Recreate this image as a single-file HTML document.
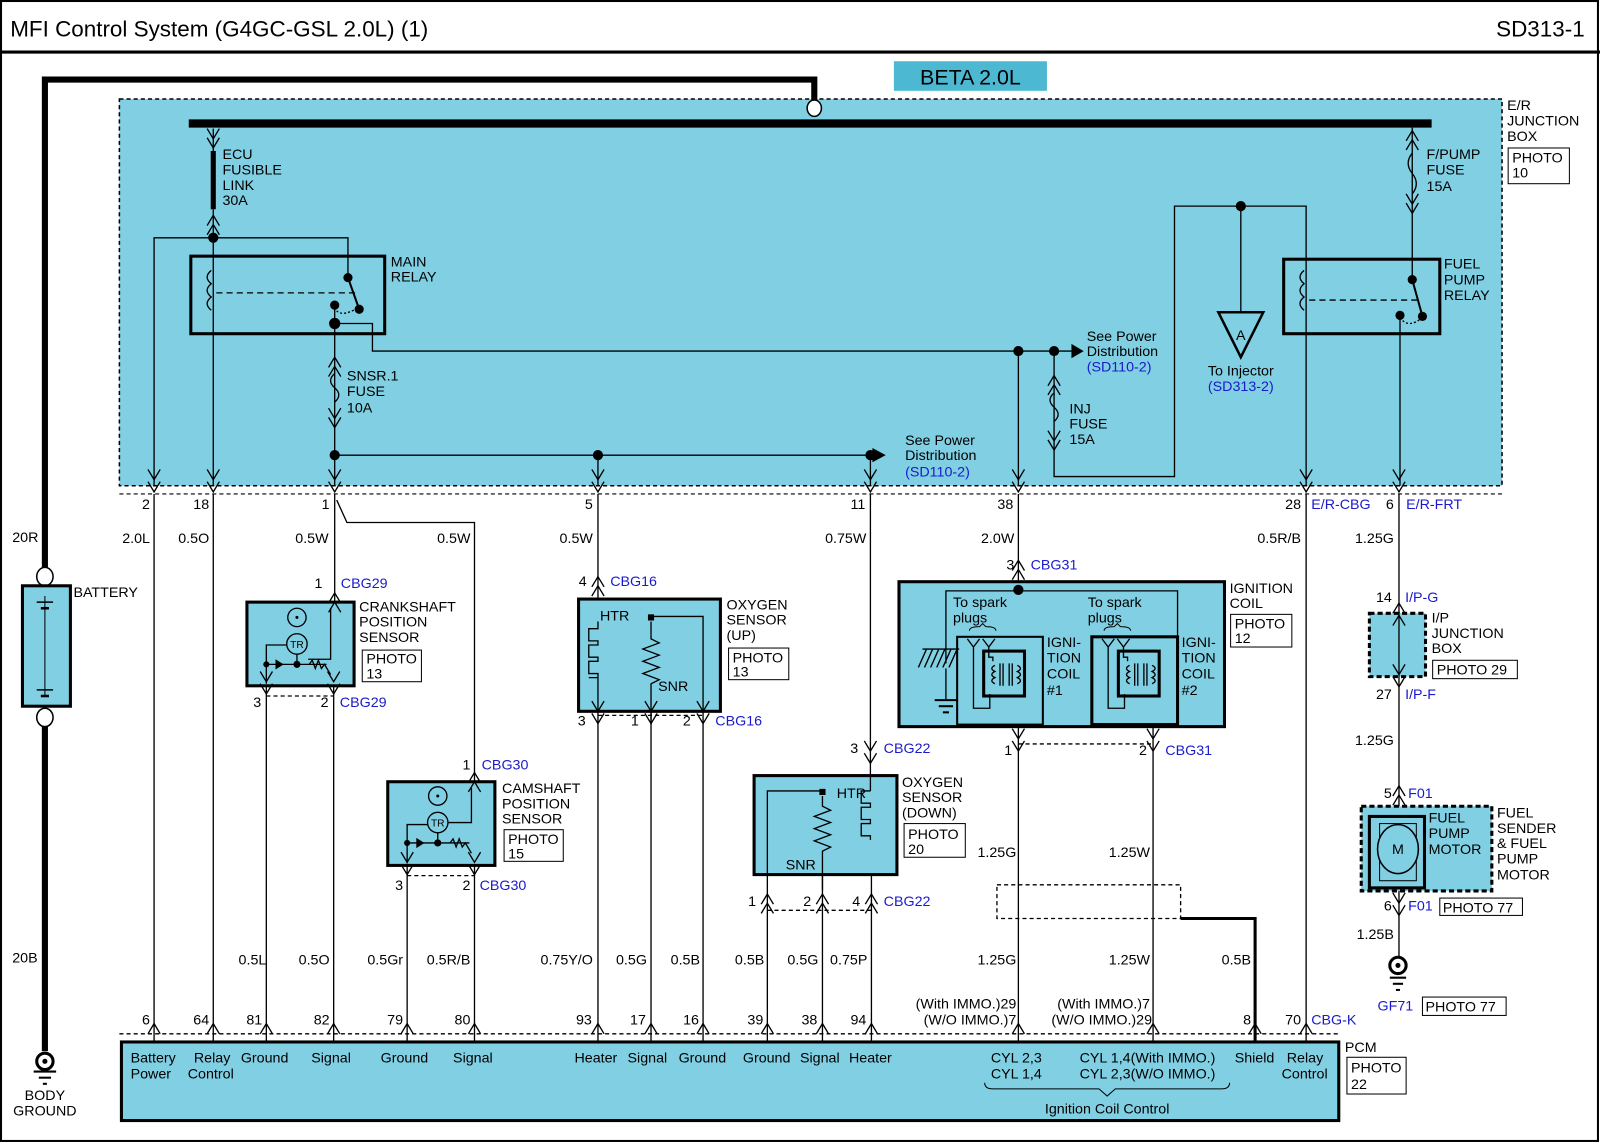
<!DOCTYPE html>
<html><head><meta charset="utf-8"><style>
html,body{margin:0;padding:0;background:#fff}
svg{display:block}
text{font-family:"Liberation Sans",Arial,sans-serif;font-size:14px;fill:#000}
.b{fill:#1a1acc}
.r{text-anchor:end}
.m{text-anchor:middle}
</style></head><body>
<svg width="1600" height="1143" viewBox="0 0 1568 1120" preserveAspectRatio="none" xmlns="http://www.w3.org/2000/svg">
<defs>
<path id="dn" d="M-6,-10 L0,0 L6,-10" fill="none" stroke="#000" stroke-width="1.3"/>
<path id="up" d="M-6,10 L0,0 L6,10" fill="none" stroke="#000" stroke-width="1.3"/>
<g id="dd"><use href="#dn" y="-2"/><use href="#dn" y="10"/></g>
</defs>
<rect x="1" y="1" width="1565" height="1117" fill="#fff" stroke="#000" stroke-width="2"/>
<line x1="0" y1="51" x2="1568" y2="51" stroke="#000" stroke-width="3"/>
<text x="10" y="36" style="font-size:22px">MFI Control System (G4GC-GSL 2.0L) (1)</text>
<text x="1553" y="36" class="r" style="font-size:22px">SD313-1</text>
<rect x="876" y="60" width="150" height="29" fill="#4db8d1"/>
<text x="951" y="83" class="m" style="font-size:21px">BETA 2.0L</text>

<rect x="117" y="97" width="1355" height="379" fill="#80cfe3" stroke="#000" stroke-width="1.5" stroke-dasharray="4,3"/>
<text x="1477" y="108">E/R</text><text x="1477" y="123">JUNCTION</text><text x="1477" y="138">BOX</text>
<rect x="1478" y="145" width="60" height="35" fill="#fff" stroke="#000"/>
<text x="1482" y="159">PHOTO</text><text x="1482" y="174">10</text>

<polyline points="44,557 44,78 798,78 798,99" fill="none" stroke="#000" stroke-width="6"/>
<ellipse cx="798" cy="106" rx="7" ry="8" fill="#fff" stroke="#000" stroke-width="1.5"/>
<line x1="185" y1="121" x2="1403" y2="121" stroke="#000" stroke-width="8"/>
<ellipse cx="44" cy="565" rx="8" ry="9" fill="#fff" stroke="#000" stroke-width="1.5"/>
<rect x="22" y="574" width="47" height="118" fill="#80cfe3" stroke="#000" stroke-width="3"/>
<line x1="44" y1="584" x2="44" y2="682" stroke="#000"/>
<line x1="36" y1="590" x2="52" y2="590" stroke="#000" stroke-width="1.5"/><line x1="40" y1="596" x2="48" y2="596" stroke="#000" stroke-width="2.5"/>
<line x1="36" y1="676" x2="52" y2="676" stroke="#000" stroke-width="1.5"/><line x1="40" y1="682" x2="48" y2="682" stroke="#000" stroke-width="2.5"/>
<text x="72" y="585">BATTERY</text>
<ellipse cx="44" cy="703" rx="8" ry="9" fill="#fff" stroke="#000" stroke-width="1.5"/>
<line x1="44" y1="712" x2="44" y2="1030" stroke="#000" stroke-width="6"/>
<circle cx="44" cy="1040" r="8" fill="#fff" stroke="#000" stroke-width="3"/><circle cx="44" cy="1040" r="2.5"/>
<line x1="33" y1="1050" x2="55" y2="1050" stroke="#000" stroke-width="2"/><line x1="38" y1="1056" x2="50" y2="1056" stroke="#000" stroke-width="2"/><line x1="42" y1="1062" x2="46" y2="1062" stroke="#000" stroke-width="2"/>
<text x="44" y="1078" class="m">BODY</text><text x="44" y="1093" class="m">GROUND</text>
<text x="12" y="531">20R</text><text x="12" y="943">20B</text>

<g stroke="#000" stroke-width="1.3" fill="none">
<use href="#dn" x="209" y="136"/><use href="#dn" x="209" y="145"/>
<line x1="209" y1="126" x2="209" y2="148"/>
<line x1="209" y1="148" x2="209" y2="205" stroke-width="5"/>
<use href="#up" x="209" y="211"/><use href="#up" x="209" y="220"/>
<line x1="209" y1="205" x2="209" y2="476"/>
<polyline points="151,476 151,233 341,233 341,270"/>
<rect x="187" y="251" width="190" height="76" stroke-width="3"/>
<path d="M207,265 q-8,6.5 0,13 q-8,6.5 0,13 q-8,6.5 0,13"/>
<line x1="212" y1="287" x2="348" y2="287" stroke-dasharray="6,4"/>
<line x1="341" y1="272" x2="352" y2="303" stroke-width="2"/>
<path d="M328,301 q4,12 24,0" stroke-dasharray="2,2"/>
<line x1="328" y1="298" x2="328" y2="476"/>
<polyline points="328,317 365,317 365,344 1050,344"/>
<use href="#up" x="328" y="350"/><use href="#up" x="328" y="359"/>
<path d="M328,366 q-8,7 0,14 q8,7 0,14"/>
<use href="#dn" x="328" y="410"/><use href="#dn" x="328" y="419"/>
<polyline points="328,446 855,446"/>
<line x1="586" y1="446" x2="586" y2="476"/>
<line x1="853" y1="446" x2="853" y2="476"/>
<line x1="998" y1="344" x2="998" y2="476"/>
<polyline points="1033,344 1033,467 1151,467 1151,202 1280,202 1280,476"/>
<use href="#up" x="1033" y="368"/><use href="#up" x="1033" y="377"/>
<path d="M1033,385 q-8,7 0,14 q8,7 0,14"/>
<use href="#dn" x="1033" y="432"/><use href="#dn" x="1033" y="441"/>
<line x1="1216" y1="202" x2="1216" y2="306"/>
<polygon points="1194,306 1238,306 1216,350" stroke-width="2.5" fill="none"/>
<use href="#up" x="1384" y="128"/><use href="#up" x="1384" y="137"/>
<path d="M1384,150 q-8,10 0,20 q8,10 0,20"/>
<use href="#dn" x="1384" y="200"/><use href="#dn" x="1384" y="209"/>
<line x1="1384" y1="125" x2="1384" y2="272"/>
<rect x="1258" y="254" width="153" height="73" stroke-width="3"/>
<path d="M1278,265 q-8,6.5 0,13 q-8,6.5 0,13 q-8,6.5 0,13"/>
<line x1="1283" y1="294" x2="1390" y2="294" stroke-dasharray="6,4"/>
<line x1="1384" y1="274" x2="1394" y2="310" stroke-width="2"/>
<path d="M1372,311 q8,12 22,0" stroke-dasharray="2,2"/>
<line x1="1372" y1="308" x2="1372" y2="476"/>
</g>
<g fill="#000">
<circle cx="209" cy="233" r="5"/><circle cx="341" cy="272" r="4.5"/><circle cx="352" cy="303" r="4.5"/><circle cx="328" cy="299" r="4.5"/>
<circle cx="328" cy="317" r="5.5"/><circle cx="998" cy="344" r="5"/><circle cx="1033" cy="344" r="5"/>
<polygon points="1050,337 1062,344 1050,351"/>
<circle cx="328" cy="446" r="5"/><circle cx="586" cy="446" r="5"/><circle cx="853" cy="446" r="5"/>
<polygon points="855,439 868,446 855,453"/>
<circle cx="1216" cy="202" r="5"/>
<circle cx="1384" cy="274" r="4.5"/><circle cx="1394" cy="310" r="4.5"/><circle cx="1372" cy="309" r="4.5"/>
</g>
<text x="218" y="156">ECU</text><text x="218" y="171">FUSIBLE</text><text x="218" y="186">LINK</text><text x="218" y="201">30A</text>
<text x="383" y="261">MAIN</text><text x="383" y="276">RELAY</text>
<text x="340" y="373">SNSR.1</text><text x="340" y="388">FUSE</text><text x="340" y="404">10A</text>
<text x="1065" y="334">See Power</text><text x="1065" y="349">Distribution</text><text x="1065" y="364" class="b">(SD110-2)</text>
<text x="887" y="436">See Power</text><text x="887" y="451">Distribution</text><text x="887" y="467" class="b">(SD110-2)</text>
<text x="1048" y="405">INJ</text><text x="1048" y="420">FUSE</text><text x="1048" y="435">15A</text>
<text x="1216" y="333" class="m">A</text>
<text x="1216" y="368" class="m">To Injector</text><text x="1216" y="383" class="m b">(SD313-2)</text>
<text x="1398" y="156">F/PUMP</text><text x="1398" y="171">FUSE</text><text x="1398" y="187">15A</text>
<text x="1415" y="263">FUEL</text><text x="1415" y="279">PUMP</text><text x="1415" y="294">RELAY</text>

<line x1="117" y1="484" x2="1472" y2="484" stroke="#000" stroke-dasharray="4,3"/>
<g><use href="#dd" x="151" y="472"/><use href="#dd" x="209" y="472"/><use href="#dd" x="328" y="472"/><use href="#dd" x="586" y="472"/><use href="#dd" x="853" y="472"/><use href="#dd" x="998" y="472"/><use href="#dd" x="1280" y="472"/><use href="#dd" x="1371" y="472"/></g>
<text x="147" y="499" class="r">2</text><text x="205" y="499" class="r">18</text><text x="323" y="499" class="r">1</text><text x="581" y="499" class="r">5</text><text x="848" y="499" class="r">11</text><text x="993" y="499" class="r">38</text><text x="1275" y="499" class="r">28</text><text x="1285" y="499" class="b">E/R-CBG</text><text x="1366" y="499" class="r">6</text><text x="1378" y="499" class="b">E/R-FRT</text>
<text x="147" y="532" class="r">2.0L</text><text x="205" y="532" class="r">0.5O</text><text x="322" y="532" class="r">0.5W</text><text x="461" y="532" class="r">0.5W</text><text x="581" y="532" class="r">0.5W</text><text x="849" y="532" class="r">0.75W</text><text x="994" y="532" class="r">2.0W</text><text x="1275" y="532" class="r">0.5R/B</text><text x="1366" y="532" class="r">1.25G</text>

<g stroke="#000" stroke-width="1.3" fill="none">
<line x1="151" y1="484" x2="151" y2="1020"/>
<line x1="209" y1="484" x2="209" y2="1020"/>
<line x1="328" y1="484" x2="328" y2="590"/>
<polyline points="330,490 340,512 465,512 465,765"/>
<line x1="261" y1="672" x2="261" y2="1020"/>
<line x1="327" y1="672" x2="327" y2="1020"/>
<line x1="399" y1="848" x2="399" y2="1020"/>
<line x1="465" y1="848" x2="465" y2="1020"/>
<line x1="586" y1="484" x2="586" y2="587"/>
<line x1="586" y1="697" x2="586" y2="1020"/>
<line x1="638" y1="697" x2="638" y2="1020"/>
<line x1="689" y1="697" x2="689" y2="1020"/>
<line x1="853" y1="484" x2="853" y2="760"/>
<line x1="752" y1="857" x2="752" y2="1020"/>
<line x1="806" y1="857" x2="806" y2="1020"/>
<line x1="854" y1="857" x2="854" y2="1020"/>
<line x1="998" y1="484" x2="998" y2="1020"/>
<line x1="1130" y1="712" x2="1130" y2="1020"/>
<line x1="1280" y1="484" x2="1280" y2="1020"/>
<polyline points="1157,900 1230,900 1230,1020" stroke-width="3"/>
<rect x="977" y="867" width="180" height="33" stroke-dasharray="4,3"/>
<line x1="1371" y1="484" x2="1371" y2="938"/>
<line x1="261" y1="682" x2="327" y2="682" stroke-dasharray="4,3"/>
<line x1="399" y1="858" x2="465" y2="858" stroke-dasharray="4,3"/>
<line x1="586" y1="701" x2="689" y2="701" stroke-dasharray="4,3"/>
<line x1="752" y1="892" x2="854" y2="892" stroke-dasharray="4,3"/>
<line x1="998" y1="729" x2="1130" y2="729" stroke-dasharray="4,3"/>
<line x1="117" y1="1013" x2="1312" y2="1013" stroke-dasharray="4,3"/>
</g>

<rect x="242" y="590" width="105" height="82" fill="#80cfe3" stroke="#000" stroke-width="3"/>
<g stroke="#000" stroke-width="1.3" fill="none">
<use href="#up" x="328" y="581"/><use href="#up" x="328" y="590"/>
<polyline points="302,646 324,646 324,596"/>
<polyline points="287,632 261,632 261,670"/>
<line x1="261" y1="651" x2="320" y2="651"/>
<line x1="291" y1="640" x2="291" y2="651"/>
<use href="#dn" x="261" y="668"/><use href="#dn" x="261" y="680"/>
<use href="#dn" x="327" y="668"/><use href="#dn" x="327" y="680"/>
<path d="M303,651 l3,-4 l3,8 l3,-8 l3,8 l3,-4 l6,10" />
</g>
<circle cx="291" cy="605" r="9" fill="none" stroke="#000" stroke-width="1.3"/><circle cx="291" cy="605" r="1.5"/>
<circle cx="291" cy="631" r="10" fill="#80cfe3" stroke="#000" stroke-width="1.3"/><text x="291" y="635" class="m" style="font-size:10px">TR</text>
<circle cx="261" cy="651" r="3"/><circle cx="291" cy="651" r="3.5"/><polygon points="270,646 270,656 278,651"/>
<text x="316" y="576" class="r">1</text><text x="334" y="576" class="b">CBG29</text>
<text x="352" y="599">CRANKSHAFT</text><text x="352" y="614">POSITION</text><text x="352" y="629">SENSOR</text>
<rect x="355" y="637" width="58" height="31" fill="#fff" stroke="#000"/><text x="359" y="650">PHOTO</text><text x="359" y="665">13</text>
<text x="256" y="693" class="r">3</text><text x="322" y="693" class="r">2</text><text x="333" y="693" class="b">CBG29</text>

<rect x="380" y="766" width="105" height="82" fill="#80cfe3" stroke="#000" stroke-width="3"/>
<g stroke="#000" stroke-width="1.3" fill="none">
<use href="#up" x="465" y="757"/><use href="#up" x="465" y="766"/>
<polyline points="439,806 462,806 462,772"/>
<polyline points="419,808 399,808 399,846"/>
<line x1="399" y1="826" x2="460" y2="826"/>
<line x1="429" y1="816" x2="429" y2="826"/>
<use href="#dn" x="399" y="845"/><use href="#dn" x="399" y="857"/>
<use href="#dn" x="465" y="845"/><use href="#dn" x="465" y="857"/>
<path d="M441,826 l3,-4 l3,8 l3,-8 l3,8 l3,-4 l6,10"/>
</g>
<circle cx="429" cy="780" r="9" fill="none" stroke="#000" stroke-width="1.3"/><circle cx="429" cy="780" r="1.5"/>
<circle cx="429" cy="806" r="10" fill="#80cfe3" stroke="#000" stroke-width="1.3"/><text x="429" y="810" class="m" style="font-size:10px">TR</text>
<circle cx="399" cy="826" r="3"/><circle cx="429" cy="826" r="3.5"/><polygon points="408,821 408,831 416,826"/>
<text x="461" y="754" class="r">1</text><text x="472" y="754" class="b">CBG30</text>
<text x="492" y="777">CAMSHAFT</text><text x="492" y="792">POSITION</text><text x="492" y="807">SENSOR</text>
<rect x="494" y="813" width="58" height="31" fill="#fff" stroke="#000"/><text x="498" y="827">PHOTO</text><text x="498" y="841">15</text>
<text x="395" y="872" class="r">3</text><text x="461" y="872" class="r">2</text><text x="470" y="872" class="b">CBG30</text>

<rect x="567" y="587" width="139" height="110" fill="#80cfe3" stroke="#000" stroke-width="3"/>
<g stroke="#000" stroke-width="1.3" fill="none">
<use href="#up" x="586" y="565"/><use href="#up" x="586" y="574"/>
<path d="M586,609 v7 h-9 v12 h9 v4 h-9 v12 h9 v4 h-9 v12 h9 v4 h-9 v0 M586,660 v37"/>
<polyline points="638,609 638,622"/>
<path d="M638,622 l0,4 l8,4 l-16,6 l16,6 l-16,6 l16,6 l-16,6 l16,6 l-8,4 v40"/>
<polyline points="638,604 689,604 689,697"/>
<use href="#dn" x="586" y="697"/><use href="#dn" x="586" y="709"/>
<use href="#dn" x="638" y="697"/><use href="#dn" x="638" y="709"/>
<use href="#dn" x="689" y="697"/><use href="#dn" x="689" y="709"/>
</g>
<rect x="635" y="602" width="6" height="6"/>
<text x="588" y="608">HTR</text><text x="645" y="677">SNR</text>
<text x="575" y="574" class="r">4</text><text x="598" y="574" class="b">CBG16</text>
<text x="712" y="597">OXYGEN</text><text x="712" y="612">SENSOR</text><text x="712" y="627">(UP)</text>
<rect x="714" y="635" width="59" height="31" fill="#fff" stroke="#000"/><text x="718" y="649">PHOTO</text><text x="718" y="663">13</text>
<text x="574" y="711" class="r">3</text><text x="626" y="711" class="r">1</text><text x="677" y="711" class="r">2</text><text x="701" y="711" class="b">CBG16</text>

<rect x="739" y="760" width="140" height="97" fill="#80cfe3" stroke="#000" stroke-width="3"/>
<g stroke="#000" stroke-width="1.3" fill="none">
<use href="#dn" x="853" y="736"/><use href="#dn" x="853" y="748"/>
<polyline points="853,760 853,775"/>
<path d="M853,775 h-9 v12 h9 v4 h-9 v12 h9 v4 h-9 v12 h9 v4"/>
<path d="M806,780 v10 l8,4 l-16,6 l16,6 l-16,6 l16,6 l-16,6 l16,6 l-8,4 v38"/>
<polyline points="806,775 752,775 752,857"/>
<use href="#up" x="752" y="876"/><use href="#up" x="752" y="885"/>
<use href="#up" x="806" y="876"/><use href="#up" x="806" y="885"/>
<use href="#up" x="854" y="876"/><use href="#up" x="854" y="885"/>
</g>
<rect x="803" y="773" width="6" height="6"/>
<text x="820" y="782">HTR</text><text x="770" y="852">SNR</text>
<text x="841" y="738" class="r">3</text><text x="866" y="738" class="b">CBG22</text>
<text x="884" y="771">OXYGEN</text><text x="884" y="786">SENSOR</text><text x="884" y="801">(DOWN)</text>
<rect x="886" y="807" width="60" height="33" fill="#fff" stroke="#000"/><text x="890" y="822">PHOTO</text><text x="890" y="837">20</text>
<text x="741" y="888" class="r">1</text><text x="795" y="888" class="r">2</text><text x="843" y="888" class="r">4</text><text x="866" y="888" class="b">CBG22</text>

<rect x="881" y="570" width="319" height="142" fill="#80cfe3" stroke="#000" stroke-width="3"/>
<g stroke="#000" stroke-width="1.3" fill="none">
<use href="#up" x="998" y="549"/><use href="#up" x="998" y="558"/>
<polyline points="927,650 927,579 1154,579 1154,712"/>
<line x1="927" y1="655" x2="927" y2="685"/>
<line x1="916" y1="686" x2="938" y2="686" stroke-width="2"/><line x1="920" y1="692" x2="934" y2="692" stroke-width="2"/><line x1="924" y1="698" x2="930" y2="698" stroke-width="2"/>
<path d="M908,636 l-8,18 M914,636 l-8,18 M920,636 l-8,18 M926,636 l-8,18 M932,636 l-8,18 M938,636 l-8,18"/>
<line x1="904" y1="636" x2="940" y2="636"/>
<rect x="938" y="624" width="84" height="86" stroke-width="2"/>
<rect x="964" y="638" width="40" height="44" stroke-width="3"/>
<rect x="1070" y="624" width="84" height="86" stroke-width="3"/>
<rect x="1096" y="638" width="40" height="44" stroke-width="3"/>
<path d="M948,626 l6,8 l6,-8 M963,626 l6,8 l6,-8 M954,634 v60 h16 v-14 M969,634 v10 h4 v4"/>
<path d="M1080,626 l6,8 l6,-8 M1095,626 l6,8 l6,-8 M1086,634 v60 h16 v-14 M1101,634 v10 h4 v4"/>
<path d="M950,618 q0,-4 10,-4 l3,-3 l3,3 q10,0 10,4 M1082,618 q0,-4 10,-4 l3,-3 l3,3 q10,0 10,4" stroke-width="1"/>
<path d="M975,652 q-6,3 0,6 q-6,3 0,6 q-6,3 0,6 M980,650 v22 M983,650 v22 M989,650 v22 M992,650 v22 M997,652 q6,3 0,6 q6,3 0,6 q6,3 0,6"/>
<path d="M1107,652 q-6,3 0,6 q-6,3 0,6 q-6,3 0,6 M1112,650 v22 M1115,650 v22 M1121,650 v22 M1124,650 v22 M1129,652 q6,3 0,6 q6,3 0,6 q6,3 0,6"/>
<use href="#dn" x="998" y="724"/><use href="#dn" x="998" y="736"/>
<use href="#dn" x="1130" y="724"/><use href="#dn" x="1130" y="736"/>
</g>
<circle cx="998" cy="578" r="5"/>
<text x="934" y="595">To spark</text><text x="934" y="610">plugs</text>
<text x="1066" y="595">To spark</text><text x="1066" y="610">plugs</text>
<text x="1026" y="634">IGNI-</text><text x="1026" y="649">TION</text><text x="1026" y="665">COIL</text><text x="1026" y="681">#1</text>
<text x="1158" y="634">IGNI-</text><text x="1158" y="649">TION</text><text x="1158" y="665">COIL</text><text x="1158" y="681">#2</text>
<text x="994" y="558" class="r">3</text><text x="1010" y="558" class="b">CBG31</text>
<text x="1205" y="581">IGNITION</text><text x="1205" y="596">COIL</text>
<rect x="1206" y="602" width="60" height="32" fill="#fff" stroke="#000"/><text x="1210" y="616">PHOTO</text><text x="1210" y="630">12</text>
<text x="992" y="740" class="r">1</text><text x="1124" y="740" class="r">2</text><text x="1142" y="740" class="b">CBG31</text>

<use href="#up" x="1371" y="591"/><use href="#up" x="1371" y="600"/>
<text x="1364" y="590" class="r">14</text><text x="1377" y="590" class="b">I/P-G</text>
<rect x="1342" y="601" width="55" height="62" fill="#80cfe3" stroke="#000" stroke-width="3" stroke-dasharray="5,3"/>
<line x1="1371" y1="601" x2="1371" y2="663" stroke="#000" stroke-width="1.3"/>
<use href="#up" x="1371" y="603"/><use href="#dn" x="1371" y="661"/><use href="#dn" x="1371" y="673"/>
<text x="1403" y="610">I/P</text><text x="1403" y="625">JUNCTION</text><text x="1403" y="640">BOX</text>
<rect x="1404" y="647" width="83" height="18" fill="#fff" stroke="#000"/><text x="1408" y="661">PHOTO 29</text>
<text x="1364" y="685" class="r">27</text><text x="1377" y="685" class="b">I/P-F</text>
<text x="1366" y="730" class="r">1.25G</text>
<use href="#up" x="1371" y="770"/><use href="#up" x="1371" y="779"/>
<text x="1364" y="782" class="r">5</text><text x="1380" y="782" class="b">F01</text>
<rect x="1334" y="790" width="128" height="83" fill="#80cfe3" stroke="#000" stroke-width="3" stroke-dasharray="5,3"/>
<rect x="1342" y="800" width="54" height="70" fill="#80cfe3" stroke="#000" stroke-width="3"/>
<rect x="1352" y="807" width="36" height="56" fill="none" stroke="#000" stroke-width="1"/>
<ellipse cx="1370" cy="832" rx="20" ry="24" fill="#80cfe3" stroke="#000" stroke-width="1.5"/>
<text x="1370" y="837" class="m">M</text>
<text x="1400" y="806">FUEL</text><text x="1400" y="821">PUMP</text><text x="1400" y="837">MOTOR</text>
<text x="1467" y="801">FUEL</text><text x="1467" y="816">SENDER</text><text x="1467" y="831">&amp; FUEL</text><text x="1467" y="846">PUMP</text><text x="1467" y="862">MOTOR</text>
<use href="#dn" x="1371" y="885"/><use href="#dn" x="1371" y="897"/>
<text x="1364" y="892" class="r">6</text><text x="1380" y="892" class="b">F01</text>
<rect x="1411" y="880" width="81" height="17" fill="#fff" stroke="#000"/><text x="1414" y="894">PHOTO 77</text>
<text x="1366" y="920" class="r">1.25B</text>
<circle cx="1370" cy="946" r="8" fill="#fff" stroke="#000" stroke-width="3"/><circle cx="1370" cy="946" r="2.5"/>
<line x1="1362" y1="958" x2="1378" y2="958" stroke="#000" stroke-width="2"/><line x1="1365" y1="964" x2="1375" y2="964" stroke="#000" stroke-width="2"/><line x1="1368" y1="970" x2="1372" y2="970" stroke="#000" stroke-width="2"/>
<text x="1350" y="990" class="b">GF71</text>
<rect x="1394" y="977" width="82" height="18" fill="#fff" stroke="#000"/><text x="1397" y="991">PHOTO 77</text>

<text x="996" y="840" class="r">1.25G</text><text x="1127" y="840" class="r">1.25W</text>
<text x="261" y="945" class="r">0.5L</text><text x="323" y="945" class="r">0.5O</text><text x="395" y="945" class="r">0.5Gr</text><text x="461" y="945" class="r">0.5R/B</text>
<text x="581" y="945" class="r">0.75Y/O</text><text x="634" y="945" class="r">0.5G</text><text x="686" y="945" class="r">0.5B</text><text x="749" y="945" class="r">0.5B</text><text x="802" y="945" class="r">0.5G</text><text x="850" y="945" class="r">0.75P</text>
<text x="996" y="945" class="r">1.25G</text><text x="1127" y="945" class="r">1.25W</text><text x="1226" y="945" class="r">0.5B</text>

<g><use href="#up" x="151" y="1003"/><use href="#up" x="209" y="1003"/><use href="#up" x="261" y="1003"/><use href="#up" x="327" y="1003"/><use href="#up" x="399" y="1003"/><use href="#up" x="465" y="1003"/><use href="#up" x="586" y="1003"/><use href="#up" x="638" y="1003"/><use href="#up" x="689" y="1003"/><use href="#up" x="752" y="1003"/><use href="#up" x="806" y="1003"/><use href="#up" x="854" y="1003"/><use href="#up" x="998" y="1003"/><use href="#up" x="1130" y="1003"/><use href="#up" x="1230" y="1003"/><use href="#up" x="1280" y="1003"/></g>
<text x="147" y="1004" class="r">6</text><text x="205" y="1004" class="r">64</text><text x="257" y="1004" class="r">81</text><text x="323" y="1004" class="r">82</text><text x="395" y="1004" class="r">79</text><text x="461" y="1004" class="r">80</text><text x="580" y="1004" class="r">93</text><text x="633" y="1004" class="r">17</text><text x="685" y="1004" class="r">16</text><text x="748" y="1004" class="r">39</text><text x="801" y="1004" class="r">38</text><text x="849" y="1004" class="r">94</text>
<text x="996" y="988" class="r">(With IMMO.)29</text><text x="996" y="1004" class="r">(W/O IMMO.)7</text>
<text x="1127" y="988" class="r">(With IMMO.)7</text><text x="1129" y="1004" class="r">(W/O IMMO.)29</text>
<text x="1226" y="1004" class="r">8</text><text x="1275" y="1004" class="r">70</text><text x="1285" y="1004" class="b">CBG-K</text>
<rect x="119" y="1021" width="1193" height="77" fill="#80cfe3" stroke="#000" stroke-width="3"/>
<text x="128" y="1041">Battery</text><text x="128" y="1057">Power</text>
<text x="190" y="1041">Relay</text><text x="184" y="1057">Control</text>
<text x="236" y="1041">Ground</text><text x="305" y="1041">Signal</text><text x="373" y="1041">Ground</text><text x="444" y="1041">Signal</text>
<text x="563" y="1041">Heater</text><text x="615" y="1041">Signal</text><text x="665" y="1041">Ground</text>
<text x="728" y="1041">Ground</text><text x="784" y="1041">Signal</text><text x="832" y="1041">Heater</text>
<text x="971" y="1041">CYL 2,3</text><text x="971" y="1057">CYL 1,4</text>
<text x="1058" y="1041">CYL 1,4(With IMMO.)</text><text x="1058" y="1057">CYL 2,3(W/O IMMO.)</text>
<text x="1210" y="1041">Shield</text><text x="1261" y="1041">Relay</text><text x="1256" y="1057">Control</text>
<path d="M965,1061 q0,6 8,6 h104 l8,7 l8,-7 h104 q8,0 8,-6" fill="none" stroke="#000" stroke-width="1"/>
<text x="1085" y="1091" class="m">Ignition Coil Control</text>
<text x="1318" y="1031">PCM</text>
<rect x="1320" y="1036" width="58" height="36" fill="#fff" stroke="#000"/><text x="1324" y="1051">PHOTO</text><text x="1324" y="1067">22</text>
</svg>
</body></html>
